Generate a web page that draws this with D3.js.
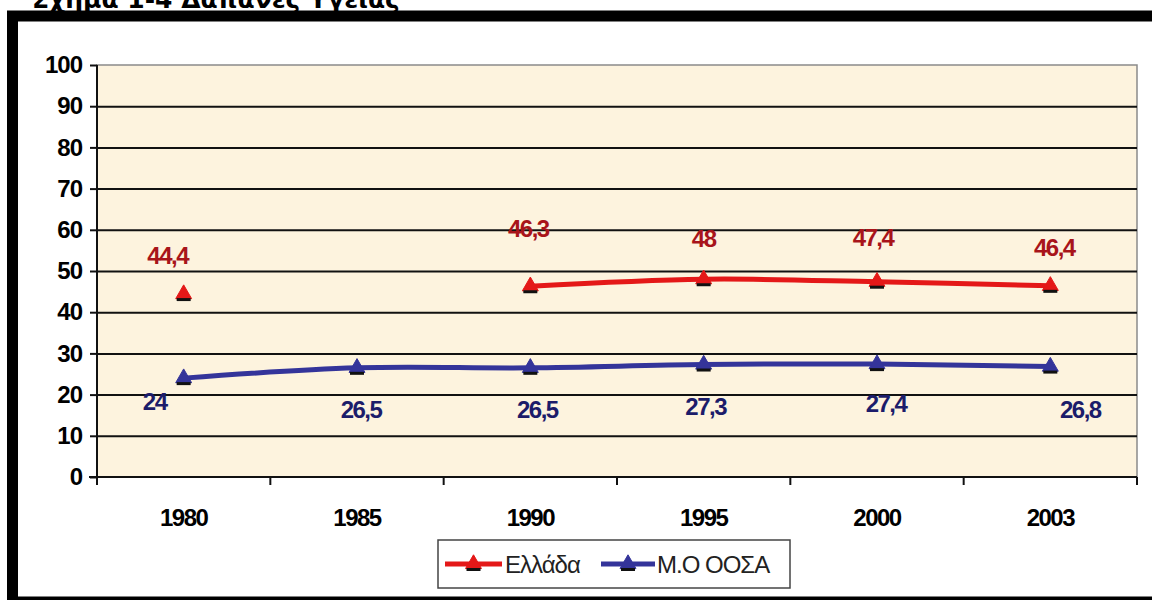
<!DOCTYPE html>
<html>
<head>
<meta charset="utf-8">
<script src="https://cdn.jsdelivr.net/npm/d3@7"></script>
<style>
  html, body { margin: 0; padding: 0; background: #ffffff; }
  svg { display: block; }
</style>
</head>
<body>
<svg id="chart" width="1152" height="600"></svg>
<script>
// ---- data ----
const years = ["1980", "1985", "1990", "1995", "2000", "2003"];
const greece = [44.4, null, 46.3, 48, 47.4, 46.4];
const oecd = [24, 26.5, 26.5, 27.3, 27.4, 26.8];
const greeceLabels = ["44,4", "", "46,3", "48", "47,4", "46,4"];
const oecdLabels = ["24", "26,5", "26,5", "27,3", "27,4", "26,8"];
const yTicks = [0, 10, 20, 30, 40, 50, 60, 70, 80, 90, 100];
const seriesNames = ["Ελλάδα", "Μ.Ο ΟΟΣΑ"];
const title = "Σχήμα 1-4 Δαπάνες Υγείας";

// ---- layout (label nudges in px, not data) ----
const grNudge = [[-16, -39], [0, 0], [-2, -58], [0, -41], [-4, -44], [4, -38]];
const oeNudge = [[-29, 23], [4, 42], [7, 42], [2, 42], [9, 39], [30, 43]];

const svg = d3.select("#chart");
const L = 97, R = 1137, T = 65, B = 477;
const x = d3.scaleBand().domain(years).range([L, R]).paddingInner(0).paddingOuter(0);
const y = d3.scaleLinear().domain([0, 100]).range([B, T]);
const cx = d => x(d) + x.bandwidth() / 2;

const RED = "#e41818", BLUE = "#34349a";
const RED_TXT = "#a8141a", BLUE_TXT = "#1c1c6a";
const font = "'Liberation Sans', Arial, sans-serif";

// title (partly hidden above the frame)
svg.append("text")
  .attr("x", 32).attr("y", 8)
  .attr("font-family", "'DejaVu Sans', Verdana, sans-serif")
  .attr("font-weight", "bold").attr("font-size", 25)
  .attr("fill", "#000")
  .text(title);

// outer black frame (right side cut off)
svg.append("rect")
  .attr("x", 12.5).attr("y", 16).attr("width", 1200).attr("height", 586)
  .attr("fill", "#fff").attr("stroke", "#000").attr("stroke-width", 11);

// plot background
svg.append("rect")
  .attr("x", L).attr("y", T).attr("width", R - L).attr("height", B - T)
  .attr("fill", "#fdf3de").attr("stroke", "#8a8a8a").attr("stroke-width", 1.5);

// gridlines
const grid = svg.append("g").attr("transform", `translate(${L},0)`)
  .call(d3.axisLeft(y).tickValues(yTicks.filter(v => v > 0 && v < 100)).tickSize(-(R - L)).tickFormat(""));
grid.select(".domain").remove();
grid.selectAll("line").attr("stroke", "#111").attr("stroke-width", 2);

// y axis
const yAxis = svg.append("g").attr("transform", `translate(${L},0)`)
  .call(d3.axisLeft(y).tickValues(yTicks).tickSize(7).tickPadding(8));
yAxis.select(".domain").attr("stroke", "#111").attr("stroke-width", 2)
  .attr("d", `M0,${T}V${B + 8}`);
yAxis.selectAll("line").attr("stroke", "#111").attr("stroke-width", 2);
yAxis.selectAll("text")
  .attr("font-family", font).attr("font-weight", "bold").attr("font-size", 24)
  .attr("letter-spacing", -1).attr("fill", "#000");

// x axis with boundary ticks
const xAxis = svg.append("g").attr("transform", `translate(0,${B})`)
  .call(d3.axisBottom(x).tickSize(0).tickPadding(32));
xAxis.select(".domain").attr("stroke", "#111").attr("stroke-width", 2)
  .attr("d", `M${L - 8},0H${R}`);
xAxis.selectAll("text")
  .attr("font-family", font).attr("font-weight", "bold").attr("font-size", 24)
  .attr("letter-spacing", -1.5).attr("fill", "#000");
const bounds = years.map(d => x(d)).concat([x(years[years.length - 1]) + x.bandwidth()]);
xAxis.selectAll(".bt").data(bounds).enter().append("line")
  .attr("x1", d => d).attr("x2", d => d).attr("y1", 0).attr("y2", 8)
  .attr("stroke", "#111").attr("stroke-width", 2);

// lines
const line = d3.line()
  .defined(d => d.v != null)
  .x(d => cx(d.year)).y(d => y(d.v))
  .curve(d3.curveCatmullRom.alpha(0.5));

const grData = years.map((yr, i) => ({ year: yr, v: greece[i], lab: greeceLabels[i], n: grNudge[i] }));
const oeData = years.map((yr, i) => ({ year: yr, v: oecd[i], lab: oecdLabels[i], n: oeNudge[i] }));

svg.append("path").datum(oeData).attr("d", line)
  .attr("fill", "none").attr("stroke", BLUE).attr("stroke-width", 5);
svg.append("path").datum(grData).attr("d", line)
  .attr("fill", "none").attr("stroke", RED).attr("stroke-width", 5);

const tri = d3.symbol().type(d3.symbolTriangle).size(110);
function markers(data, color) {
  const g = svg.append("g");
  const pts = data.filter(d => d.v != null);
  g.selectAll("path").data(pts).enter().append("path")
    .attr("d", tri)
    .attr("transform", d => `translate(${cx(d.year)},${y(d.v)})`)
    .attr("fill", color).attr("stroke", color).attr("stroke-width", 1);
  g.selectAll("line").data(pts).enter().append("line")
    .attr("x1", d => cx(d.year) - 7).attr("x2", d => cx(d.year) + 7)
    .attr("y1", d => y(d.v) + 5.5).attr("y2", d => y(d.v) + 5.5)
    .attr("stroke", "#111").attr("stroke-width", 3);
}
markers(oeData, BLUE);
markers(grData, RED);

function labels(data, color) {
  svg.append("g").selectAll("text").data(data.filter(d => d.v != null && d.lab)).enter().append("text")
    .attr("x", d => cx(d.year) + d.n[0])
    .attr("y", d => y(d.v) + d.n[1])
    .attr("dy", "0.36em")
    .attr("text-anchor", "middle")
    .attr("font-family", font).attr("font-weight", "bold").attr("font-size", 24)
    .attr("letter-spacing", -1.5)
    .attr("fill", color)
    .text(d => d.lab);
}
labels(grData, RED_TXT);
labels(oeData, BLUE_TXT);

// legend
const lg = svg.append("g");
lg.append("rect").attr("x", 438).attr("y", 540).attr("width", 352).attr("height", 48)
  .attr("fill", "#fff").attr("stroke", "#444").attr("stroke-width", 1.5);
const legendItems = [
  { name: seriesNames[0], color: RED, x0: 445, x1: 502, tx: 505 },
  { name: seriesNames[1], color: BLUE, x0: 601, x1: 655, tx: 657 }
];
legendItems.forEach(it => {
  const ly = 564;
  lg.append("line").attr("x1", it.x0).attr("x2", it.x1).attr("y1", ly).attr("y2", ly)
    .attr("stroke", it.color).attr("stroke-width", 5);
  const mx = (it.x0 + it.x1) / 2;
  lg.append("path").attr("d", tri).attr("transform", `translate(${mx},${ly})`)
    .attr("fill", it.color).attr("stroke", it.color).attr("stroke-width", 1);
  lg.append("line").attr("x1", mx - 7).attr("x2", mx + 7).attr("y1", ly + 5.5).attr("y2", ly + 5.5)
    .attr("stroke", "#111").attr("stroke-width", 3);
  lg.append("text").attr("x", it.tx).attr("y", ly).attr("dy", "0.36em")
    .attr("font-family", font).attr("font-size", 24).attr("letter-spacing", -1)
    .attr("fill", "#222").text(it.name);
});
</script>
</body>
</html>
